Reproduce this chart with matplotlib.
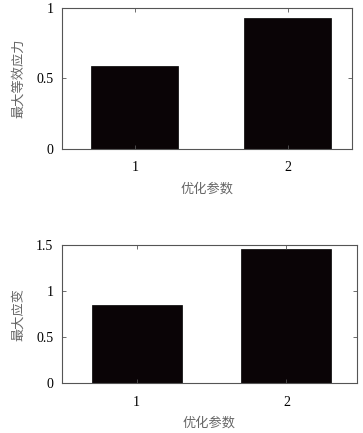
import matplotlib.pyplot as plt

plt.rcParams['font.family'] = ['Liberation Serif', 'Noto Sans CJK SC']

# 数据
params = [1, 2]
stress = [0.59, 0.93]
strain = [0.846, 1.453]

xlabel = '优化参数'
ylabel_top = '最大等效应力'
ylabel_bot = '最大应变'

fig = plt.figure(figsize=(3.63, 4.33), dpi=100)
ax1 = fig.add_axes([0.171, 0.656, 0.799, 0.326])
ax2 = fig.add_axes([0.170, 0.115, 0.813, 0.319])

bar_color = '#0a0406'
label_color = '#666666'
cjk = ['Noto Sans CJK SC']

def style(ax, ylim, yticks, yticklabels, xlim):
    ax.set_ylim(*ylim)
    ax.set_xlim(*xlim)
    ax.set_yticks(yticks)
    ax.set_yticklabels(yticklabels)
    ax.set_xticks(params)
    ax.set_xticklabels([str(p) for p in params])
    ax.tick_params(direction='in', top=True, right=True, length=3,
                   width=0.6, color='#555555', labelsize=10)
    ax.tick_params(axis='x', pad=9)
    ax.tick_params(axis='y', pad=6)
    for s in ax.spines.values():
        s.set_linewidth(0.8)
        s.set_color('#555555')

ax1.bar(params, stress, width=0.57, color=bar_color, edgecolor='black', linewidth=0.5)
style(ax1, (0, 1), [0, 0.5, 1], ['0', '0.5', '1'], (0.525, 2.42))
ax1.set_xlabel(xlabel, family=cjk, fontsize=9.5, color=label_color, labelpad=6)
ax1.set_ylabel(ylabel_top, family=cjk, fontsize=9.5, color=label_color, labelpad=8)

ax2.bar(params, strain, width=0.6, color=bar_color, edgecolor='black', linewidth=0.5)
style(ax2, (0, 1.5), [0, 0.5, 1, 1.5], ['0', '0.5', '1', '1.5'], (0.5, 2.47))
ax2.set_xlabel(xlabel, family=cjk, fontsize=9.5, color=label_color, labelpad=6)
ax2.set_ylabel(ylabel_bot, family=cjk, fontsize=9.5, color=label_color, labelpad=8)

fig.savefig('out.png', dpi=100)
